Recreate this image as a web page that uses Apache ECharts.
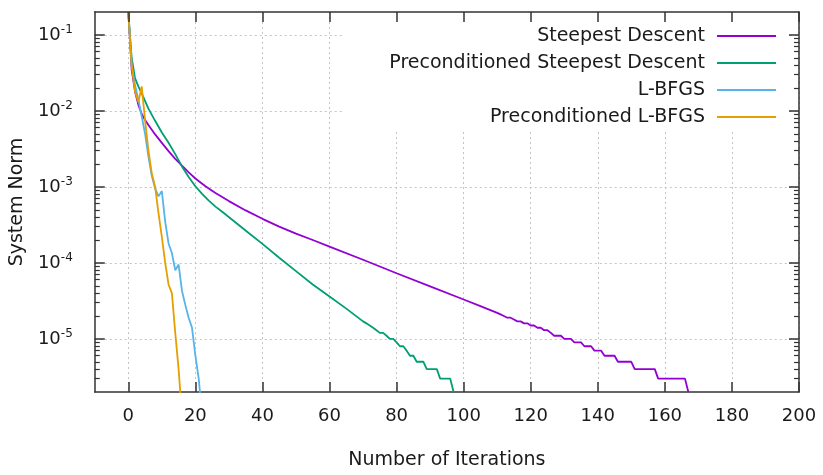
<!DOCTYPE html>
<html><head><meta charset="utf-8">
<script src="https://cdn.jsdelivr.net/npm/echarts@6/dist/echarts.min.js"></script>
<style>html,body{margin:0;padding:0;background:#fff}#c{width:823px;height:475px}</style>
</head><body><div id="c"></div>
<script>
// ---- data ----
const xTicks = [0, 20, 40, 60, 80, 100, 120, 140, 160, 180, 200];
const yMajor = [1e-5, 1e-4, 1e-3, 1e-2, 1e-1];
const yMinor = [3e-6, 4e-6, 5e-6, 6e-6, 7e-6, 8e-6, 9e-6,
  2e-5, 3e-5, 4e-5, 5e-5, 6e-5, 7e-5, 8e-5, 9e-5,
  2e-4, 3e-4, 4e-4, 5e-4, 6e-4, 7e-4, 8e-4, 9e-4,
  2e-3, 3e-3, 4e-3, 5e-3, 6e-3, 7e-3, 8e-3, 9e-3,
  2e-2, 3e-2, 4e-2, 5e-2, 6e-2, 7e-2, 8e-2, 9e-2];
const seriesNames = ['Steepest Descent', 'Preconditioned Steepest Descent', 'L-BFGS', 'Preconditioned L-BFGS'];
const seriesColors = ['#9400d3', '#009e73', '#56b4e9', '#e69f00'];

const sdIter = [0, 1, 2, 3, 4, 5, 6, 8, 10, 12, 14, 16, 18, 20, 23, 26, 30, 35, 40, 45, 50, 55, 60, 70, 80, 90, 100, 105,
  110, 111, 112, 113, 114, 115, 116, 117, 118, 119, 120, 121, 122, 123, 124, 125, 126, 127, 128, 129, 130, 131, 132, 133, 134, 135,
  136, 137, 138, 139, 140, 141, 142, 143, 144, 145, 146, 147, 148, 149, 150, 151, 152, 153, 154, 155, 156, 157, 158, 159, 160,
  161, 162, 163, 164, 165, 166, 167];
const sdNorm = [0.2, 0.035, 0.018, 0.012, 0.0091, 0.0076, 0.0065, 0.0049, 0.0038, 0.00295, 0.00234, 0.0019, 0.00155, 0.00129,
  0.00102, 0.00083, 0.00065, 0.00049, 0.00038, 0.0003, 0.000243, 0.0002, 0.000164, 0.00011, 0.000073, 0.000049, 0.000033, 0.000027,
  22e-6, 21e-6, 20e-6, 19e-6, 19e-6, 18e-6, 17e-6, 17e-6, 16e-6, 16e-6, 15e-6, 15e-6, 14e-6, 14e-6, 13e-6, 13e-6, 12e-6, 11e-6, 11e-6, 11e-6,
  10e-6, 10e-6, 10e-6, 9e-6, 9e-6, 9e-6, 8e-6, 8e-6, 8e-6, 7e-6, 7e-6, 7e-6, 6e-6, 6e-6, 6e-6, 6e-6, 5e-6, 5e-6, 5e-6, 5e-6, 5e-6,
  4e-6, 4e-6, 4e-6, 4e-6, 4e-6, 4e-6, 4e-6, 3e-6, 3e-6, 3e-6, 3e-6, 3e-6, 3e-6, 3e-6, 3e-6, 3e-6, 2e-6];

const psdIter = [0, 1, 2, 3, 4, 6, 8, 10, 12, 14, 16, 18, 20, 22, 24, 26, 28, 32, 36, 40, 45, 50, 55, 60, 65,
  70, 71, 72, 73, 74, 75, 76, 77, 78, 79, 80, 81, 82, 83, 84, 85, 86, 87, 88, 89, 90, 91, 92, 93, 94, 95, 96, 97];
const psdNorm = [0.2, 0.05, 0.027, 0.021, 0.017, 0.0107, 0.0074, 0.0052, 0.0038, 0.0027, 0.00186, 0.00135, 0.00102, 0.00081,
  0.00066, 0.00055, 0.00047, 0.00034, 0.000245, 0.000178, 0.000117, 0.000078, 0.000052, 0.000036, 0.000025,
  17e-6, 16e-6, 15e-6, 14e-6, 13e-6, 12e-6, 12e-6, 11e-6, 10e-6, 10e-6, 9e-6, 8e-6, 8e-6, 7e-6, 6e-6, 6e-6, 5e-6, 5e-6, 5e-6,
  4e-6, 4e-6, 4e-6, 4e-6, 3e-6, 3e-6, 3e-6, 3e-6, 2e-6];

const lbIter = [0, 1, 2, 3, 4, 5, 6, 7, 8, 9, 10, 11, 12, 13, 14, 15, 16, 17, 18, 19, 20, 21, 22];
const lbNorm = [0.2, 0.04, 0.022, 0.014, 0.0085, 0.005, 0.0025, 0.0014, 0.00095, 0.00075, 0.00088, 0.00035, 0.00018, 0.000135,
  0.00008, 0.000095, 0.000043, 0.000028, 0.000019, 0.000014, 0.000006, 0.000003, 0.000001];

const plbIter = [0, 1, 2, 3, 4, 5, 6, 7, 8, 9, 10, 11, 12, 13, 14, 15, 16];
const plbNorm = [0.2, 0.04, 0.018, 0.013, 0.021, 0.0075, 0.003, 0.0015, 0.001, 0.00045, 0.00022, 0.0001, 0.000052, 0.00004,
  0.000012, 0.000004, 0.000001];

const xName = 'Number of Iterations';
const yName = 'System Norm';

// ---- chart ----
const FONT = 'DejaVu Sans';
const TXT = '#1a1a1a';
const pair = (xs, ys) => xs.map((x, i) => [x, ys[i]]);
const seriesData = [pair(sdIter, sdNorm), pair(psdIter, psdNorm), pair(lbIter, lbNorm), pair(plbIter, plbNorm)];

const X_MIN = -10, X_MAX = 200, Y_MIN = 2e-6, Y_MAX = 0.2;
const frameLine = {show: true, onZero: false, lineStyle: {color: '#333', width: 1.5}};
const noLine = {show: false, onZero: false};
const gridLine = {show: true, lineStyle: {color: '#c4c4c4', width: 1, type: [2, 3]}};

const chart = echarts.init(document.getElementById('c'), null, {renderer: 'canvas'});
chart.setOption({
  animation: false,
  backgroundColor: '#fff',
  grid: {left: 92, right: 24, top: 12, bottom: 78, containLabel: false},
  legend: {
    orient: 'vertical', align: 'right', right: 33, top: 13,
    padding: [13, 14, 3, 46], itemGap: 7, itemWidth: 59, itemHeight: 2,
    icon: 'rect',
    backgroundColor: '#fff',
    textStyle: {fontFamily: FONT, fontSize: 19, color: TXT, lineHeight: 20, padding: [0, 7, 0, 0]},
    data: seriesNames
  },
  xAxis: [
    {type: 'value', position: 'bottom', min: X_MIN, max: X_MAX,
      name: xName, nameLocation: 'middle', nameGap: 59,
      nameTextStyle: {fontFamily: FONT, fontSize: 19, color: TXT},
      axisLine: frameLine,
      axisTick: {show: true, inside: true, length: 10, customValues: xTicks, lineStyle: {color: '#333', width: 1.5}},
      axisLabel: {customValues: xTicks, margin: 15, fontFamily: FONT, fontSize: 18, color: TXT},
      splitLine: gridLine},
    {type: 'value', position: 'top', min: X_MIN, max: X_MAX, z: 5,
      axisLine: frameLine,
      axisTick: {show: true, inside: true, length: 10, customValues: xTicks, lineStyle: {color: '#333', width: 1.5}},
      axisLabel: {show: false}, splitLine: {show: false}}
  ],
  yAxis: [
    {type: 'log', logBase: 10, position: 'left', min: Y_MIN, max: Y_MAX,
      name: yName, nameLocation: 'middle', nameGap: 46,
      nameTextStyle: {fontFamily: FONT, fontSize: 19, color: TXT},
      axisLine: frameLine,
      axisTick: {show: true, inside: true, length: 10, customValues: yMajor, lineStyle: {color: '#333', width: 1.5}},
      axisLabel: {customValues: yMajor, margin: 22,
        formatter: v => '{b|10}{s|' + Math.round(Math.log10(v)) + '}',
        rich: {
          b: {fontFamily: FONT, fontSize: 18, color: TXT, lineHeight: 22},
          s: {fontFamily: FONT, fontSize: 12, color: TXT, verticalAlign: 'top'}
        }},
      splitLine: gridLine},
    {type: 'log', logBase: 10, position: 'right', min: Y_MIN, max: Y_MAX, z: 5,
      axisLine: frameLine,
      axisTick: {show: true, inside: true, length: 10, customValues: yMajor, lineStyle: {color: '#333', width: 1.5}},
      axisLabel: {show: false}, splitLine: {show: false}},
    {type: 'log', logBase: 10, position: 'left', min: Y_MIN, max: Y_MAX,
      axisLine: noLine,
      axisTick: {show: true, inside: true, length: 5, customValues: yMinor, lineStyle: {color: '#333', width: 1.2}},
      axisLabel: {show: false}, splitLine: {show: false}},
    {type: 'log', logBase: 10, position: 'right', min: Y_MIN, max: Y_MAX, z: 5,
      axisLine: noLine,
      axisTick: {show: true, inside: true, length: 5, customValues: yMinor, lineStyle: {color: '#333', width: 1.2}},
      axisLabel: {show: false}, splitLine: {show: false}}
  ],
  series: seriesNames.map((name, i) => ({
    name, type: 'line', xAxisIndex: 0, yAxisIndex: 0,
    data: seriesData[i], symbol: 'none', smooth: false,
    color: seriesColors[i],
    lineStyle: {color: seriesColors[i], width: 1.8}
  }))
});
</script></body></html>
